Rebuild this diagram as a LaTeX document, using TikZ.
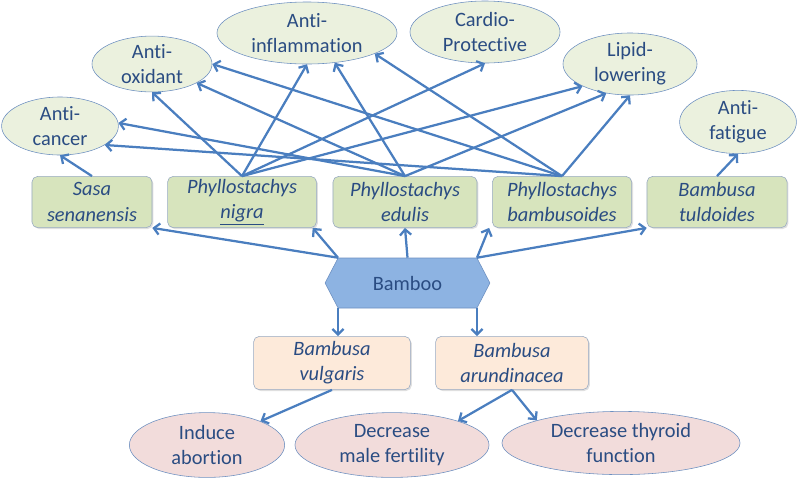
\documentclass[tikz,border=0pt]{standalone}
\usepackage{fontspec}
\setmainfont{Carlito}[Ligatures=NoCommon]
\usepackage{xcolor}
\usetikzlibrary{shapes,shapes.symbols,arrows.meta,positioning,calc,shadows}

\definecolor{txtblue}{HTML}{2A4C82}
\definecolor{linkblue}{HTML}{4A7EBF}
\definecolor{rimblue}{HTML}{6C8FC0}
\definecolor{effgreen}{HTML}{EBF1DE}
\definecolor{spgreen}{HTML}{D7E4BD}
\definecolor{sporange}{HTML}{FDEADA}
\definecolor{toxpink}{HTML}{F2DCDB}
\definecolor{bamfill}{HTML}{8DB3E2}
\definecolor{boxrim}{HTML}{97A9C2}

\begin{document}
\begin{tikzpicture}[x=0.025cm, y=-0.025cm,
    txt/.style={text=txtblue, align=center, font=\fontsize{14.5}{18}\selectfont},
    effect/.style={txt, ellipse, draw=rimblue, fill=effgreen, inner sep=0pt},
    toxic/.style={txt, ellipse, draw=rimblue, fill=toxpink, inner sep=0pt},
    species/.style={txt, rectangle, rounded corners=4pt, draw=boxrim, fill=spgreen,
      inner sep=0pt, minimum height=1.28cm,
      font=\fontsize{14.5}{18}\selectfont\itshape,
      drop shadow={shadow xshift=1pt, shadow yshift=-1pt, opacity=0.25}},
    link/.style={draw=linkblue, line width=1.6pt, -{Straight Barb[length=4pt,width=8pt]}}]

  \useasboundingbox (0,0) rectangle (800,482);

  % Health effects
  \node[effect, minimum width=2.92cm, minimum height=1.45cm] (cancer) at (60,126) {Anti-\\cancer};
  \node[effect, minimum width=3.0cm, minimum height=1.3cm] (oxid) at (152,64) {Anti-\\oxidant};
  \node[effect, minimum width=4.5cm, minimum height=1.55cm] (inflam) at (307,33) {Anti-\\inflammation};
  \node[effect, minimum width=3.75cm, minimum height=1.55cm] (cardio) at (485,32) {Cardio-\\Protective};
  \node[effect, minimum width=3.35cm, minimum height=1.55cm] (lipid) at (630,64) {Lipid-\\lowering};
  \node[effect, minimum width=2.92cm, minimum height=1.58cm] (fatigue) at (738,122) {Anti-\\fatigue};

  % Species with benefits
  \node[species, minimum width=3.0cm] (sasa) at (92,202) {Sasa\\senanensis};
  \node[species, minimum width=3.72cm] (nigra) at (242,202) {Phyllostachys\\\underline{nigra}};
  \node[species, minimum width=3.6cm] (edulis) at (405,202) {Phyllostachys\\edulis};
  \node[species, minimum width=3.48cm] (bambus) at (562,202) {Phyllostachys\\bambusoides};
  \node[species, minimum width=3.5cm] (tuld) at (717,202) {Bambusa\\tuldoides};

  % Bamboo
  \node[txt, shape=signal, signal to=east and west, signal pointer angle=125,
    draw=rimblue, fill=bamfill, minimum width=4.12cm, minimum height=1.25cm,
    inner sep=0pt] (bamboo) at (407.5,283) {Bamboo};
  \coordinate (btl) at ($(bamboo.north)+(-69.5,0)$);
  \coordinate (btr) at ($(bamboo.north)+(69.5,0)$);
  \coordinate (bbl) at ($(bamboo.south)+(-69.5,0)$);
  \coordinate (bbr) at ($(bamboo.south)+(69.5,0)$);

  % Species with side effects
  \node[species, fill=sporange, minimum width=3.92cm, minimum height=1.33cm] (vulg) at (332,363) {Bambusa\\vulgaris};
  \node[species, fill=sporange, minimum width=3.82cm, minimum height=1.33cm] (arund) at (512,363) {Bambusa\\arundinacea};

  % Side effects
  \node[toxic, minimum width=3.88cm, minimum height=1.62cm] (abort) at (207,445) {Induce\\abortion};
  \node[toxic, minimum width=4.85cm, minimum height=1.62cm] (male) at (392,445) {Decrease\\male fertility};
  \node[toxic, minimum width=5.95cm, minimum height=1.58cm] (thyroid) at (621,443) {Decrease thyroid\\function};

  % Bamboo to species
  \draw[link] (btl) -- (sasa.south east);
  \draw[link] (btl) -- ($(nigra.south east)+(-4,0)$);
  \draw[link] (bamboo.north) -- (edulis.south);
  \draw[link] (btr) -- ($(bambus.south west)+(-3,0)$);
  \draw[link] (btr) -- (tuld.south west);
  \draw[link] (bbl) -- (bbl |- vulg.north);
  \draw[link] (bbr) -- (bbr |- arund.north);

  % Species to effects
  \draw[link] (sasa.north) -- (cancer.south);
  \foreach \t in {oxid.south, inflam.south, cardio.south, lipid.-155}
    \draw[link] (nigra.north) -- (\t);
  \foreach \t in {cancer.3, oxid.-23, inflam.-47, lipid.-129}
    \draw[link] (edulis.north) -- (\t);
  \foreach \t in {cancer.-23, oxid.east, inflam.-17, lipid.south}
    \draw[link] (bambus.north) -- (\t);
  \draw[link] (tuld.north) -- (fatigue.south);

  % Side effects
  \draw[link] (vulg.south) -- (abort.24);
  \draw[link] (arund.south) -- (male.20);
  \draw[link] (arund.south) -- (thyroid.165);
\end{tikzpicture}
\end{document}
